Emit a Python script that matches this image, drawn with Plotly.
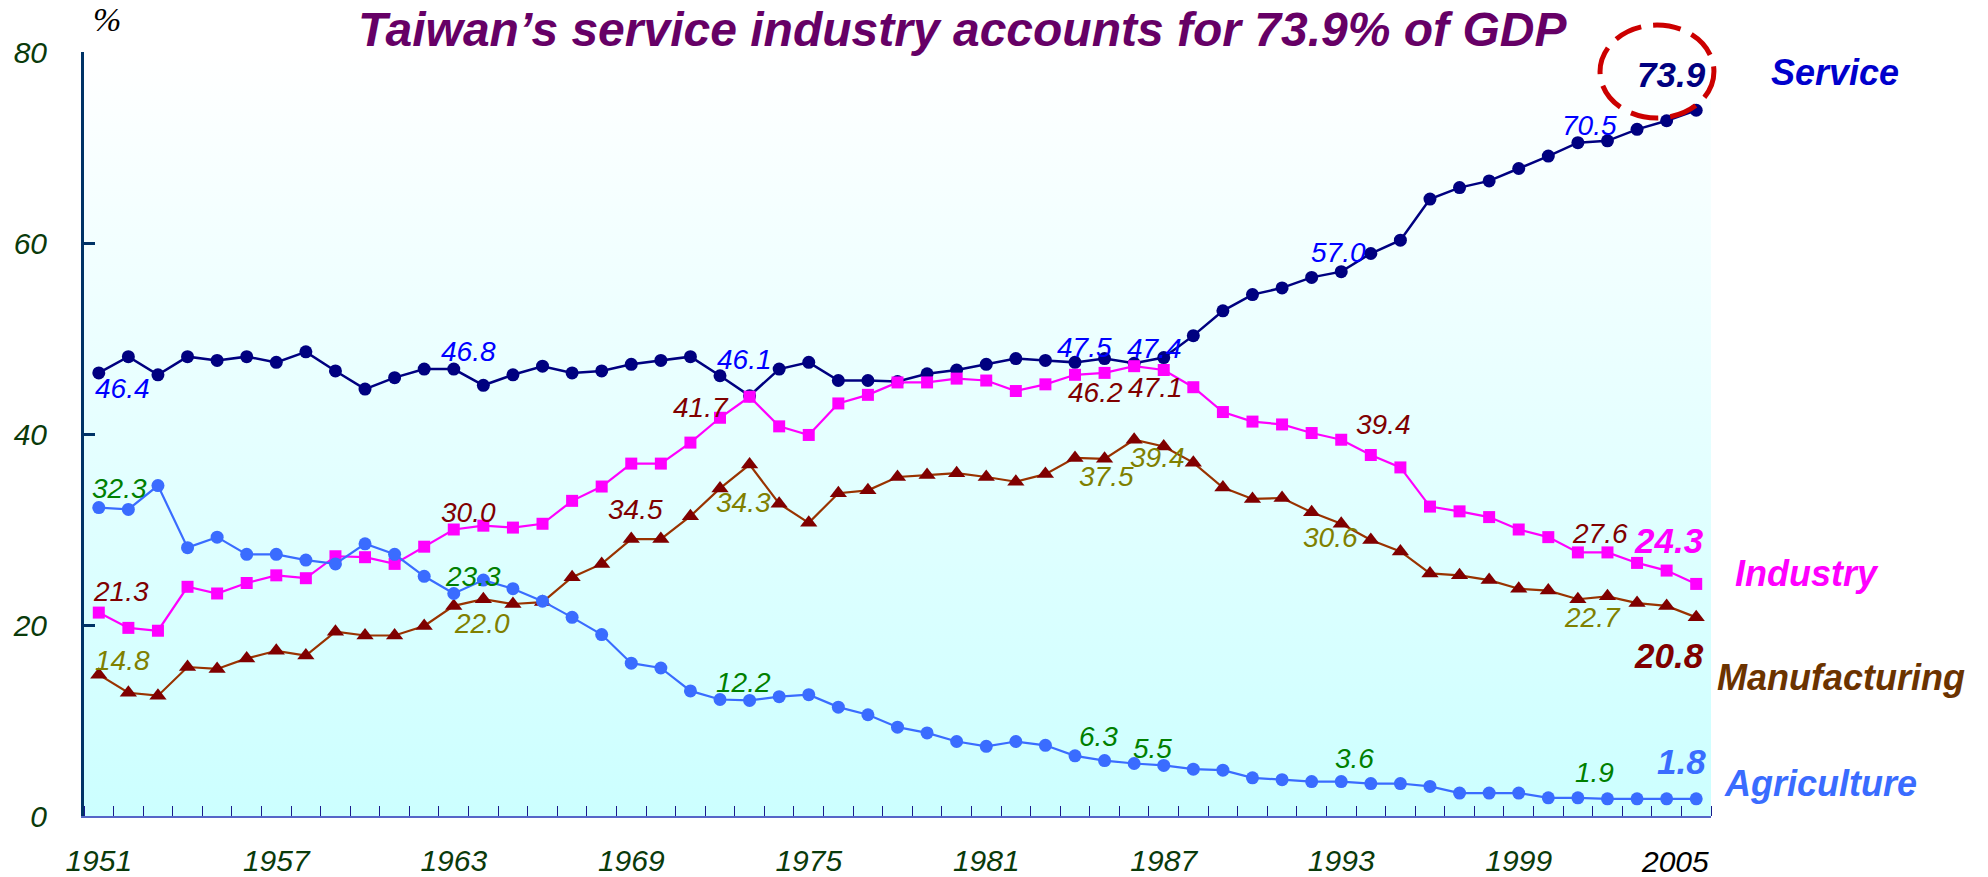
import base64
import plotly.graph_objects as go

# ---- data: share of GDP (%) by sector, 1951-2005 ----
years = list(range(1951, 2006))

service = [
    46.4, 48.1, 46.2, 48.1, 47.7, 48.1, 47.5, 48.6, 46.6, 44.7,
    45.9, 46.8, 46.8, 45.1, 46.2, 47.1, 46.4, 46.6, 47.3, 47.7,
    48.1, 46.1, 44.0, 46.8, 47.5, 45.6, 45.6, 45.5, 46.3, 46.7,
    47.3, 47.9, 47.7, 47.5, 47.9, 47.4, 48.0, 50.3, 52.9, 54.6,
    55.3, 56.4, 57.0, 58.9, 60.3, 64.6, 65.8, 66.5, 67.8, 69.1,
    70.5, 70.7, 71.9, 72.8, 73.9,
]
industry = [
    21.3, 19.7, 19.4, 24.0, 23.3, 24.4, 25.2, 24.9, 27.2, 27.1,
    26.4, 28.2, 30.0, 30.4, 30.2, 30.6, 33.0, 34.5, 36.9, 36.9,
    39.1, 41.7, 43.9, 40.8, 39.9, 43.2, 44.1, 45.4, 45.4, 45.8,
    45.6, 44.5, 45.2, 46.2, 46.4, 47.1, 46.7, 44.9, 42.3, 41.3,
    41.0, 40.1, 39.4, 37.8, 36.5, 32.4, 31.9, 31.3, 30.0, 29.2,
    27.6, 27.6, 26.5, 25.7, 24.3,
]
manufacturing = [
    14.8, 12.9, 12.6, 15.6, 15.4, 16.5, 17.3, 16.8, 19.3, 18.9,
    18.9, 19.9, 22.0, 22.7, 22.2, 22.4, 25.0, 26.4, 29.0, 29.0,
    31.4, 34.3, 36.8, 32.7, 30.7, 33.8, 34.1, 35.5, 35.7, 35.9,
    35.5, 35.0, 35.8, 37.5, 37.4, 39.4, 38.7, 37.0, 34.4, 33.2,
    33.3, 31.8, 30.6, 28.9, 27.7, 25.4, 25.2, 24.7, 23.8, 23.6,
    22.7, 23.0, 22.3, 22.0, 20.8,
]
agriculture = [
    32.3, 32.1, 34.6, 28.1, 29.2, 27.4, 27.4, 26.8, 26.4, 28.5,
    27.4, 25.1, 23.3, 24.7, 23.8, 22.5, 20.8, 19.0, 16.0, 15.5,
    13.1, 12.2, 12.1, 12.5, 12.7, 11.4, 10.6, 9.3, 8.7, 7.8,
    7.3, 7.8, 7.4, 6.3, 5.8, 5.5, 5.3, 4.9, 4.8, 4.0,
    3.8, 3.6, 3.6, 3.4, 3.4, 3.1, 2.4, 2.4, 2.4, 1.9,
    1.9, 1.8, 1.8, 1.8, 1.8,
]

series_names = ["Service", "Industry", "Manufacturing", "Agriculture"]
x_tick_years = [1951, 1957, 1963, 1969, 1975, 1981, 1987, 1993, 1999]
last_tick_text = "2005"
y_ticks = [0, 20, 40, 60, 80]
title_text = "Taiwan\u2019s service industry accounts for 73.9% of GDP"
unit_text = "%"

FONT = "Liberation Sans, Arial, sans-serif"

# ---- styles per series ----
styles = {
    "Service": dict(values=service, line="#000080", marker="#000080",
                    symbol="circle", msize=13, lwidth=2.5,
                    label_color="#0000ff", end_color="#000080",
                    name_color="#0000cc"),
    "Industry": dict(values=industry, line="#ff00ff", marker="#ff00ff",
                     symbol="square", msize=12, lwidth=2.2,
                     label_color="#800000", end_color="#ff00ff",
                     name_color="#ff00ff"),
    "Manufacturing": dict(values=manufacturing, line="#993300", marker="#800000",
                          symbol="triangle-up", msize=15, lwidth=2.2,
                          label_color="#808000", end_color="#800000",
                          name_color="#6b3300"),
    "Agriculture": dict(values=agriculture, line="#3a6cff", marker="#3a6cff",
                        symbol="circle", msize=13, lwidth=2.2,
                        label_color="#008000", end_color="#3a6cff",
                        name_color="#3a6cff"),
}

# value-label placement (pixel offsets from the point)
label_offsets = {
    "Service": {1951: (24, -16), 1963: (15, 18), 1972: (24, 16), 1984: (10, 15),
                1986: (20, 15), 1993: (-3, 19), 2001: (12, 17)},
    "Industry": {1951: (22, 21), 1963: (15, 17), 1968: (34, -23), 1972: (-19, 10),
                 1984: (21, -18), 1986: (21, -21), 1993: (42, 15), 2001: (22, 19)},
    "Manufacturing": {1951: (24, 14), 1963: (28, -18), 1972: (23, -14), 1984: (32, -19),
                      1986: (23, -18), 1993: (-11, -14), 2001: (15, -18)},
    "Agriculture": {1951: (21, 19), 1963: (19, 17), 1972: (23, 17), 1984: (24, 19),
                    1986: (18, 15), 1993: (13, 23), 2001: (17, 25)},
}
end_offsets = {"Service": (-25, 36), "Industry": (-27, 43),
               "Manufacturing": (-27, -38), "Agriculture": (-15, 37)}
# series name positions in paper coords (x left edge, y middle)
name_pos = {"Service": (1.0356, 0.973), "Industry": (1.0135, 0.318),
            "Manufacturing": (1.0025, 0.181), "Agriculture": (1.0068, 0.043)}

fig = go.Figure()

for name in series_names:
    s = styles[name]
    fig.add_trace(go.Scatter(
        x=years, y=s["values"], mode="lines+markers", name=name,
        line=dict(color=s["line"], width=s["lwidth"]),
        marker=dict(color=s["marker"], symbol=s["symbol"], size=s["msize"],
                    line=dict(width=0)),
        showlegend=False, hoverinfo="x+y",
    ))

annotations = []
for name in series_names:
    s = styles[name]
    vals = s["values"]
    for yr, (dx, dy) in label_offsets[name].items():
        v = vals[years.index(yr)]
        annotations.append(dict(
            x=yr, y=v, xref="x", yref="y", text=f"{v:.1f}", showarrow=False,
            xshift=dx, yshift=dy,
            font=dict(family=FONT, size=28, color=s["label_color"], style="italic"),
        ))
    dx, dy = end_offsets[name]
    annotations.append(dict(
        x=years[-1], y=vals[-1], xref="x", yref="y", text=f"{vals[-1]:.1f}",
        showarrow=False, xshift=dx, yshift=dy,
        font=dict(family=FONT, size=35, color=s["end_color"],
                  style="italic", weight="bold"),
    ))
    nx, ny = name_pos[name]
    annotations.append(dict(
        x=nx, y=ny, xref="paper", yref="paper", text=name, showarrow=False,
        xanchor="left", yanchor="middle",
        font=dict(family=FONT, size=36, color=s["name_color"],
                  style="italic", weight="bold"),
    ))

# title and unit
annotations.append(dict(
    x=0.5397, y=1.0288, xref="paper", yref="paper", text=title_text,
    showarrow=False, xanchor="center", yanchor="middle",
    font=dict(family=FONT, size=48, color="#660066", style="italic", weight="bold"),
))
annotations.append(dict(
    x=0.0140, y=1.043, xref="paper", yref="paper", text=unit_text,
    showarrow=False, xanchor="center", yanchor="middle",
    font=dict(family="Liberation Serif, Times New Roman, serif", size=34,
              color="#000000", style="italic"),
))
# final year tick label
annotations.append(dict(
    x=years[-1], y=0, xref="x", yref="y", text=last_tick_text, showarrow=False,
    xshift=-21, yshift=-45, xanchor="center", yanchor="middle",
    font=dict(family=FONT, size=30, color="#000000", style="italic"),
))

# vertical white-to-cyan background of the plotting area
svg = ("<svg xmlns='http://www.w3.org/2000/svg' width='100' height='100' "
       "preserveAspectRatio='none'><defs><linearGradient id='g' x1='0' y1='0' "
       "x2='0' y2='1'><stop offset='0' stop-color='#ffffff'/>"
       "<stop offset='1' stop-color='#ccffff'/></linearGradient></defs>"
       "<rect width='100' height='100' fill='url(#g)'/></svg>")
bg_src = "data:image/svg+xml;base64," + base64.b64encode(svg.encode()).decode()

fig.update_layout(
    width=1988, height=877,
    margin=dict(l=84, r=277, t=52, b=61, autoexpand=False),
    paper_bgcolor="white", plot_bgcolor="white",
    annotations=annotations,
    images=[dict(source=bg_src, xref="paper", yref="paper", x=0, y=1,
                 sizex=1, sizey=1, xanchor="left", yanchor="top",
                 sizing="stretch", layer="below")],
    shapes=[dict(type="circle", xref="paper", yref="paper",
                 x0=0.9318, x1=1.0018, y0=0.9136, y1=1.0353,
                 line=dict(color="#cc0000", width=5, dash="28px,12px"))],
)

fig.update_xaxes(
    range=[1950.5, 2005.5], showgrid=False, zeroline=False, automargin=False,
    tickmode="array", tickvals=x_tick_years, ticktext=[str(y) for y in x_tick_years],
    ticks="", ticklabelstandoff=17,
    tickfont=dict(family=FONT, size=30, color="#0a3a0a", style="italic"),
    showline=True, linecolor="#5566c8", linewidth=2,
    minor=dict(tickmode="linear", tick0=1950.5, dtick=1, ticks="inside",
               ticklen=10, tickwidth=1, tickcolor="#1a1a8c", showgrid=False),
)
fig.update_yaxes(
    range=[0, 80], showgrid=False, zeroline=False, automargin=False,
    tickmode="array", tickvals=y_ticks,
    ticks="inside", ticklen=11, tickwidth=3, tickcolor="#003366",
    ticklabelstandoff=28,
    tickfont=dict(family=FONT, size=30, color="#0a3a0a", style="italic"),
    showline=True, linecolor="#003366", linewidth=3,
)

fig.write_html("out.html")
